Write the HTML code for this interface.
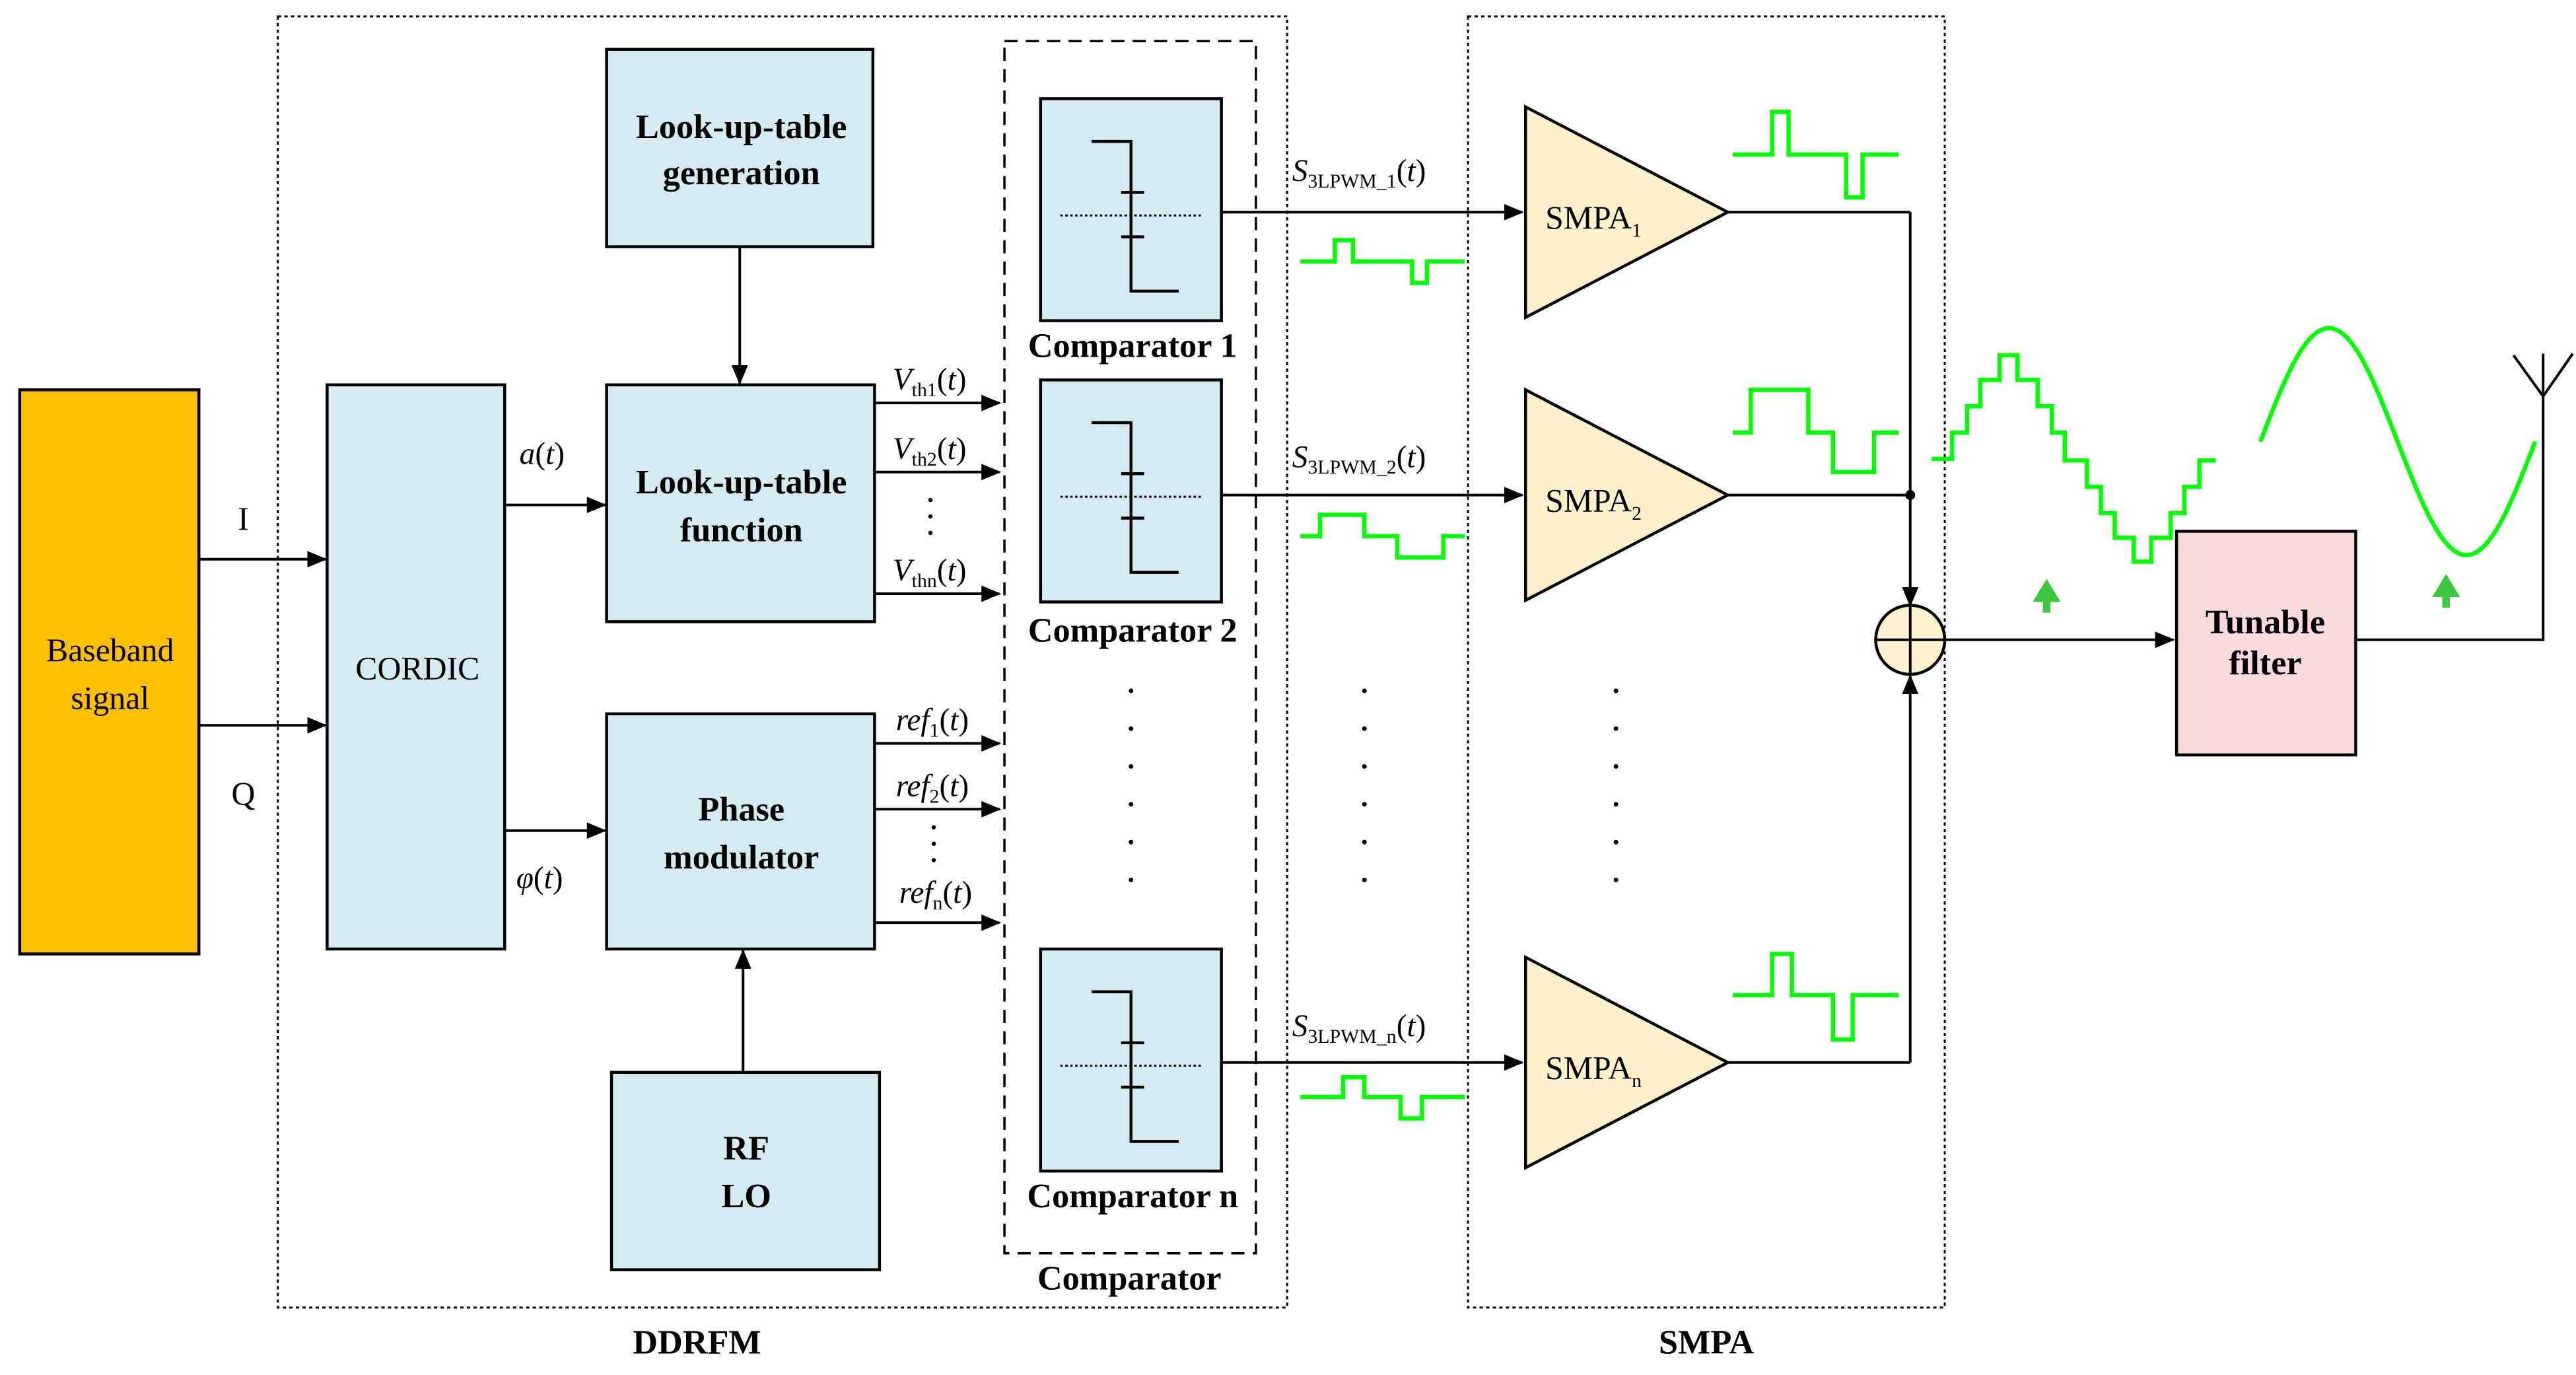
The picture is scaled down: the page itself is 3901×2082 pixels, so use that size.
<!DOCTYPE html>
<html><head><meta charset="utf-8"><style>
html,body{margin:0;padding:0;background:#fff;}
svg{display:block;}
text{font-family:"Liberation Serif",serif;fill:#000;}
.b{font-weight:bold;font-size:21px;}
.r{font-size:20px;}
.i{font-style:italic;font-size:19px;}
.s{font-size:12px;font-style:normal;}
</style></head><body>
<svg width="3901" height="2082" viewBox="0 0 1567 836" preserveAspectRatio="none" xmlns="http://www.w3.org/2000/svg">
<defs>
<marker id="ar" markerWidth="12" markerHeight="10" refX="11" refY="5" orient="auto" markerUnits="userSpaceOnUse">
<path d="M0,0 L12,5 L0,10 z" fill="#000"/></marker>
</defs>
<rect width="1567" height="836" fill="#fff"/>
<g fill="none" stroke="#000" stroke-width="1.2" stroke-dasharray="2,2">
<rect x="169" y="10" width="614" height="785"/>
<rect x="893" y="10" width="290" height="785"/>
</g>
<rect x="611" y="25" width="153" height="737" fill="none" stroke="#000" stroke-width="1.4" stroke-dasharray="8,5"/>
<text class="b" x="424" y="823" text-anchor="middle">DDRFM</text>
<text class="b" x="1038" y="823" text-anchor="middle">SMPA</text>
<text class="b" x="687" y="784" text-anchor="middle">Comparator</text>

<g stroke="#000" stroke-width="1.8">
<rect x="12" y="237" width="109" height="343" fill="#FFC000"/>
<rect x="199" y="234" width="108" height="343" fill="#D4ECF1"/>
<rect x="369" y="30" width="162" height="120" fill="#D4ECF1"/>
<rect x="369" y="234" width="163" height="144" fill="#D4ECF1"/>
<rect x="369" y="434" width="163" height="143" fill="#D4ECF1"/>
<rect x="372" y="652" width="163" height="120" fill="#D4ECF1"/>
<rect x="633" y="60" width="110" height="135" fill="#D4ECF1"/>
<rect x="633" y="231" width="110" height="135" fill="#D4ECF1"/>
<rect x="633" y="577" width="110" height="135" fill="#D4ECF1"/>
<rect x="1324" y="323" width="109" height="136" fill="#F7DAD9"/>
</g>
<text class="r" x="67" y="402" text-anchor="middle">Baseband</text>
<text class="r" x="67" y="431" text-anchor="middle">signal</text>
<text class="r" x="254" y="413" text-anchor="middle">CORDIC</text>
<text class="b" x="451" y="84" text-anchor="middle">Look-up-table</text>
<text class="b" x="451" y="112" text-anchor="middle">generation</text>
<text class="b" x="451" y="300" text-anchor="middle">Look-up-table</text>
<text class="b" x="451" y="329" text-anchor="middle">function</text>
<text class="b" x="451" y="499" text-anchor="middle">Phase</text>
<text class="b" x="451" y="528" text-anchor="middle">modulator</text>
<text class="b" x="454" y="705" text-anchor="middle">RF</text>
<text class="b" x="454" y="734" text-anchor="middle">LO</text>
<text class="b" x="1378" y="385" text-anchor="middle">Tunable</text>
<text class="b" x="1378" y="410" text-anchor="middle">filter</text>
<text class="b" x="689" y="217" text-anchor="middle">Comparator 1</text>
<text class="b" x="689" y="390" text-anchor="middle">Comparator 2</text>
<text class="b" x="689" y="734" text-anchor="middle">Comparator n</text>

<!-- comparator glyphs -->
<g stroke="#000" stroke-width="1.8" fill="none">
<path d="M664,86 H688 V177 H717 M682,117 H696 M682,144 H696"/>
<path d="M664,257 H688 V348 H717 M682,288 H696 M682,315 H696"/>
<path d="M664,603 H688 V694 H717 M682,634 H696 M682,661 H696"/>
</g>
<g stroke="#000" stroke-width="1.2" stroke-dasharray="1.5,1.5">
<path d="M645,131 H731 M645,302 H731 M645,648 H731"/>
</g>

<!-- arrows -->
<g stroke="#000" stroke-width="1.6" fill="none" marker-end="url(#ar)">
<path d="M121,340 H198"/><path d="M121,441 H198"/>
<path d="M307,307 H368"/><path d="M307,505 H368"/>
<path d="M450,150 V233"/><path d="M452,652 V578"/>
<path d="M532,245 H608"/><path d="M532,287 H608"/><path d="M532,361 H608"/>
<path d="M532,452 H608"/><path d="M532,492 H608"/><path d="M532,561 H608"/>
<path d="M743,129 H926"/><path d="M743,301 H926"/><path d="M743,646 H926"/>
<path d="M1162,129 V368"/><path d="M1162,646 V411"/>
<path d="M1183,389 H1322"/>
</g>
<g stroke="#000" stroke-width="1.6" fill="none">
<path d="M1051,129 H1162"/><path d="M1051,301 H1162"/><path d="M1051,646 H1162"/>
<path d="M1433,389 H1547 V215"/>
<path d="M1529,216 L1547,241 L1565,215"/>
</g>
<circle cx="1162" cy="301" r="3" fill="#000"/>
<circle cx="1162" cy="389" r="21" fill="#FFF2CC" stroke="#000" stroke-width="1.8"/>
<path d="M1141,389 H1183 M1162,368 V410" stroke="#000" stroke-width="1.6"/>

<!-- triangles -->
<g fill="#FEF0CB" stroke="#000" stroke-width="1.8">
<path d="M928,65 L1051,129 L928,193 z"/>
<path d="M928,237 L1051,301 L928,365 z"/>
<path d="M928,582 L1051,646 L928,710 z"/>
</g>
<text class="r" x="940" y="139">SMPA<tspan class="s" dy="5">1</tspan></text>
<text class="r" x="940" y="311">SMPA<tspan class="s" dy="5">2</tspan></text>
<text class="r" x="940" y="656">SMPA<tspan class="s" dy="5">n</tspan></text>

<!-- labels -->
<text class="r" x="148" y="322" text-anchor="middle">I</text>
<text class="r" x="148" y="489" text-anchor="middle">Q</text>
<text class="i" x="316" y="282">a<tspan font-style="normal">(</tspan>t<tspan font-style="normal">)</tspan></text>
<text class="i" x="314" y="540">φ<tspan font-style="normal">(</tspan>t<tspan font-style="normal">)</tspan></text>
<text class="i" x="543" y="237">V<tspan class="s" dy="4">th1</tspan><tspan dy="-4" font-style="normal">(</tspan>t<tspan font-style="normal">)</tspan></text>
<text class="i" x="543" y="279">V<tspan class="s" dy="4">th2</tspan><tspan dy="-4" font-style="normal">(</tspan>t<tspan font-style="normal">)</tspan></text>
<text class="i" x="543" y="353">V<tspan class="s" dy="4">thn</tspan><tspan dy="-4" font-style="normal">(</tspan>t<tspan font-style="normal">)</tspan></text>
<text class="i" x="545" y="444">ref<tspan class="s" dy="4">1</tspan><tspan dy="-4" font-style="normal">(</tspan>t<tspan font-style="normal">)</tspan></text>
<text class="i" x="545" y="484">ref<tspan class="s" dy="4">2</tspan><tspan dy="-4" font-style="normal">(</tspan>t<tspan font-style="normal">)</tspan></text>
<text class="i" x="547" y="549">ref<tspan class="s" dy="4">n</tspan><tspan dy="-4" font-style="normal">(</tspan>t<tspan font-style="normal">)</tspan></text>
<text class="i" x="786" y="110">S<tspan class="s" dy="4">3LPWM_1</tspan><tspan dy="-4" font-style="normal">(</tspan>t<tspan font-style="normal">)</tspan></text>
<text class="i" x="786" y="284">S<tspan class="s" dy="4">3LPWM_2</tspan><tspan dy="-4" font-style="normal">(</tspan>t<tspan font-style="normal">)</tspan></text>
<text class="i" x="786" y="630">S<tspan class="s" dy="4">3LPWM_n</tspan><tspan dy="-4" font-style="normal">(</tspan>t<tspan font-style="normal">)</tspan></text>

<!-- dots -->
<g fill="#000">
<circle cx="566" cy="304" r="1.3"/><circle cx="566" cy="314" r="1.3"/><circle cx="566" cy="324" r="1.3"/>
<circle cx="568" cy="503" r="1.3"/><circle cx="568" cy="513" r="1.3"/><circle cx="568" cy="523" r="1.3"/>
<circle cx="688" cy="420" r="1.4"/><circle cx="688" cy="443" r="1.4"/><circle cx="688" cy="466" r="1.4"/><circle cx="688" cy="489" r="1.4"/><circle cx="688" cy="512" r="1.4"/><circle cx="688" cy="535" r="1.4"/>
<circle cx="830" cy="420" r="1.4"/><circle cx="830" cy="443" r="1.4"/><circle cx="830" cy="466" r="1.4"/><circle cx="830" cy="489" r="1.4"/><circle cx="830" cy="512" r="1.4"/><circle cx="830" cy="535" r="1.4"/>
<circle cx="983" cy="420" r="1.4"/><circle cx="983" cy="443" r="1.4"/><circle cx="983" cy="466" r="1.4"/><circle cx="983" cy="489" r="1.4"/><circle cx="983" cy="512" r="1.4"/><circle cx="983" cy="535" r="1.4"/>
</g>

<!-- green waveforms -->
<g fill="none" stroke="#00FF00" stroke-width="2.6">
<path d="M791,159 H812 V146 H823 V159 H859 V172 H868 V159 H891"/>
<path d="M791,326 H803 V313 H830 V326 H850 V339 H878 V326 H891"/>
<path d="M791,667 H817 V655 H830 V667 H852 V680 H865 V667 H891"/>
<path d="M1054,94 H1078 V68 H1088 V94 H1123 V120 H1133 V94 H1155"/>
<path d="M1054,263 H1065 V237 H1100 V263 H1115 V287 H1140 V263 H1155"/>
<path d="M1054,605 H1078 V580 H1090 V605 H1115 V632 H1127 V605 H1155"/>
<path d="M1175,279 H1187.5 V263 H1196.6 V247 H1204.7 V231 H1216.4 V216 H1227.3 V231 H1239.5 V247 H1248.1 V263 H1256 V280 H1269.5 V296 H1278 V312 H1286.4 V327 H1298 V341.5 H1308.7 V327 H1320.4 V312 H1328.8 V296 H1337.9 V280 H1347.8"/>
<path d="M1375,268.5 C1389,232.3 1401.6,199.5 1416.7,199.5 C1431.8,199.5 1444.4,232.3 1458.5,268.5 C1472.5,304.7 1485.3,337.5 1500.4,337.5 C1515.5,337.5 1528.2,304.7 1542.2,268.5"/>
</g>
<g fill="#3CC83C">
<path d="M1245,352 L1253.5,366 H1247.3 V372.5 H1242.7 V366 H1236.5 z"/>
<path d="M1488,349 L1496.5,363 H1490.3 V369.5 H1485.7 V363 H1479.5 z"/>
</g>
</svg>
</body></html>
